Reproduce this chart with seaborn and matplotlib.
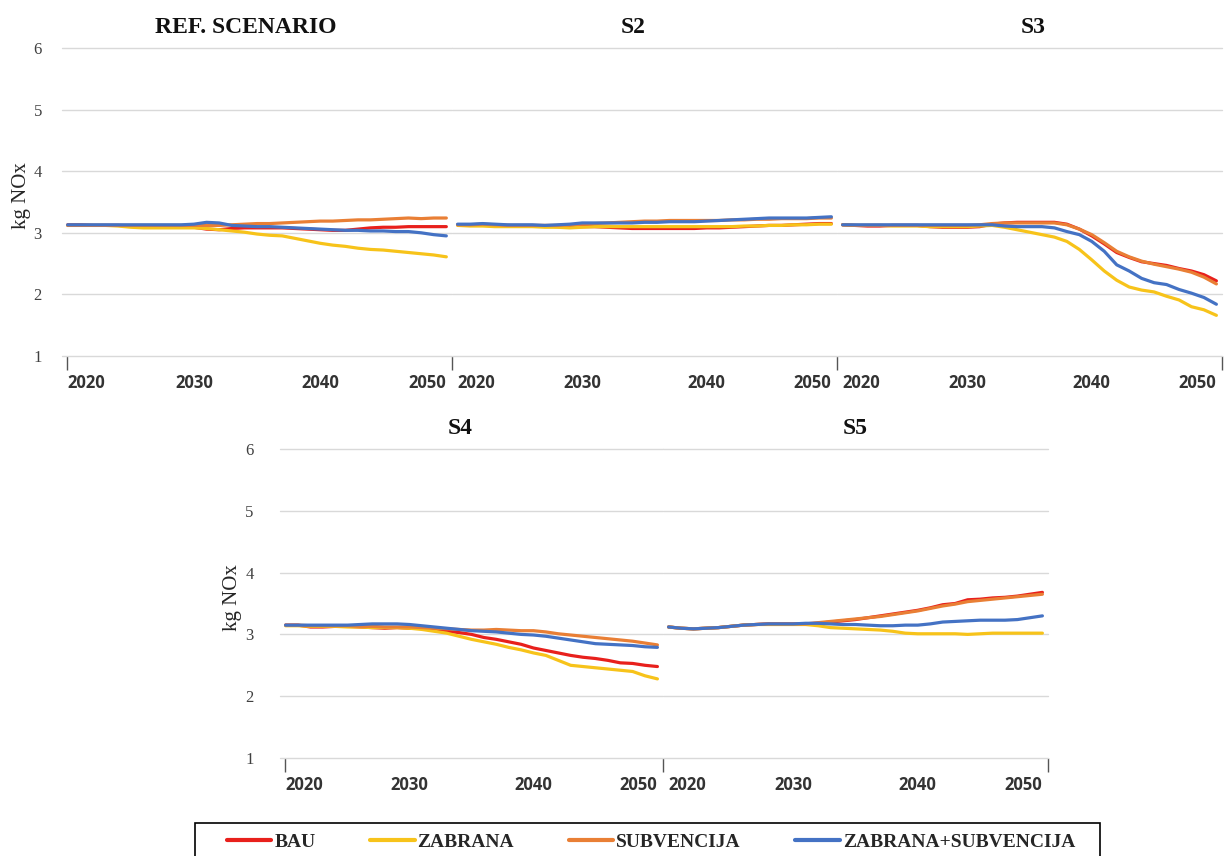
import matplotlib
matplotlib.use("Agg")
import matplotlib.pyplot as plt
import seaborn as sns
import pandas as pd
from matplotlib.lines import Line2D
from matplotlib.patches import Rectangle

# ---------------- data ----------------
years = list(range(2020, 2051))
series_names = ["BAU", "ZABRANA", "SUBVENCIJA", "ZABRANA+SUBVENCIJA"]
panel_titles = ["REF. SCENARIO", "S2", "S3", "S4", "S5"]
x_tick_years = [2020, 2030, 2040, 2050]
y_ticks = [1, 2, 3, 4, 5, 6]

ref_bau = [3.13, 3.13, 3.12, 3.12, 3.12, 3.11, 3.11, 3.11, 3.11, 3.10, 3.09, 3.06, 3.05, 3.07, 3.08, 3.08,
           3.08, 3.08, 3.07, 3.06, 3.05, 3.04, 3.04, 3.06, 3.08, 3.09, 3.09, 3.10, 3.10, 3.10, 3.10]
ref_zab = [3.12, 3.12, 3.12, 3.12, 3.11, 3.09, 3.08, 3.08, 3.08, 3.08, 3.08, 3.07, 3.05, 3.03, 3.01, 2.98,
           2.96, 2.95, 2.91, 2.87, 2.83, 2.80, 2.78, 2.75, 2.73, 2.72, 2.70, 2.68, 2.66, 2.64, 2.61]
ref_sub = [3.12, 3.12, 3.12, 3.12, 3.12, 3.12, 3.12, 3.12, 3.12, 3.12, 3.12, 3.12, 3.12, 3.13, 3.14, 3.15,
           3.15, 3.16, 3.17, 3.18, 3.19, 3.19, 3.20, 3.21, 3.21, 3.22, 3.23, 3.24, 3.23, 3.24, 3.24]
ref_zs = [3.13, 3.13, 3.13, 3.13, 3.13, 3.13, 3.13, 3.13, 3.13, 3.13, 3.14, 3.17, 3.16, 3.12, 3.11, 3.10,
          3.10, 3.09, 3.08, 3.07, 3.06, 3.05, 3.04, 3.04, 3.03, 3.03, 3.02, 3.02, 3.00, 2.97, 2.95]

s2_bau = [3.13, 3.12, 3.13, 3.12, 3.12, 3.11, 3.11, 3.11, 3.10, 3.10, 3.10, 3.10, 3.09, 3.08, 3.07, 3.07,
          3.07, 3.07, 3.07, 3.07, 3.08, 3.08, 3.09, 3.10, 3.11, 3.12, 3.12, 3.13, 3.14, 3.15, 3.15]
s2_zab = [3.12, 3.11, 3.11, 3.10, 3.10, 3.10, 3.10, 3.09, 3.09, 3.08, 3.09, 3.10, 3.10, 3.10, 3.10, 3.10,
          3.10, 3.10, 3.10, 3.10, 3.10, 3.10, 3.10, 3.11, 3.11, 3.12, 3.12, 3.13, 3.13, 3.14, 3.14]
s2_sub = [3.13, 3.13, 3.14, 3.13, 3.12, 3.12, 3.12, 3.12, 3.12, 3.13, 3.14, 3.15, 3.16, 3.17, 3.18, 3.19,
          3.19, 3.20, 3.20, 3.20, 3.20, 3.20, 3.21, 3.21, 3.22, 3.22, 3.23, 3.23, 3.23, 3.24, 3.24]
s2_zs = [3.14, 3.14, 3.15, 3.14, 3.13, 3.13, 3.13, 3.12, 3.13, 3.14, 3.16, 3.16, 3.16, 3.16, 3.16, 3.17,
         3.17, 3.18, 3.18, 3.18, 3.19, 3.20, 3.21, 3.22, 3.23, 3.24, 3.24, 3.24, 3.24, 3.25, 3.26]

s3_bau = [3.13, 3.12, 3.11, 3.11, 3.12, 3.12, 3.12, 3.10, 3.09, 3.09, 3.09, 3.10, 3.14, 3.16, 3.17, 3.17,
          3.17, 3.17, 3.14, 3.06, 2.95, 2.82, 2.68, 2.60, 2.53, 2.50, 2.47, 2.42, 2.38, 2.32, 2.22]
s3_zab = [3.13, 3.12, 3.12, 3.12, 3.11, 3.11, 3.11, 3.10, 3.10, 3.10, 3.10, 3.11, 3.12, 3.09, 3.05, 3.01,
          2.97, 2.93, 2.86, 2.73, 2.56, 2.38, 2.23, 2.12, 2.07, 2.04, 1.97, 1.91, 1.80, 1.75, 1.66]
s3_sub = [3.13, 3.12, 3.12, 3.12, 3.12, 3.12, 3.12, 3.12, 3.12, 3.12, 3.12, 3.13, 3.15, 3.16, 3.16, 3.16,
          3.16, 3.16, 3.13, 3.06, 2.97, 2.84, 2.70, 2.61, 2.54, 2.49, 2.45, 2.41, 2.36, 2.28, 2.17]
s3_zs = [3.13, 3.13, 3.13, 3.13, 3.13, 3.13, 3.13, 3.13, 3.13, 3.13, 3.13, 3.13, 3.13, 3.11, 3.10, 3.10,
         3.10, 3.08, 3.02, 2.97, 2.86, 2.70, 2.48, 2.38, 2.26, 2.19, 2.16, 2.08, 2.02, 1.95, 1.84]

s4_bau = [3.15, 3.15, 3.12, 3.12, 3.13, 3.13, 3.12, 3.11, 3.10, 3.11, 3.10, 3.10, 3.08, 3.05, 3.03, 3.00,
          2.95, 2.92, 2.88, 2.84, 2.78, 2.74, 2.70, 2.66, 2.63, 2.61, 2.58, 2.54, 2.53, 2.50, 2.48]
s4_zab = [3.14, 3.14, 3.13, 3.13, 3.13, 3.12, 3.12, 3.11, 3.11, 3.11, 3.10, 3.08, 3.05, 3.02, 2.97, 2.92,
          2.88, 2.84, 2.79, 2.75, 2.70, 2.66, 2.58, 2.50, 2.48, 2.46, 2.44, 2.42, 2.40, 2.33, 2.28]
s4_sub = [3.15, 3.15, 3.14, 3.14, 3.14, 3.14, 3.13, 3.13, 3.12, 3.12, 3.12, 3.11, 3.10, 3.09, 3.08, 3.07,
          3.07, 3.08, 3.07, 3.06, 3.06, 3.04, 3.01, 2.99, 2.97, 2.95, 2.93, 2.91, 2.89, 2.86, 2.83]
s4_zs = [3.15, 3.15, 3.15, 3.15, 3.15, 3.15, 3.16, 3.17, 3.17, 3.17, 3.16, 3.14, 3.12, 3.10, 3.08, 3.06,
         3.05, 3.04, 3.02, 3.00, 2.99, 2.97, 2.94, 2.91, 2.88, 2.85, 2.84, 2.83, 2.82, 2.80, 2.79]

s5_bau = [3.12, 3.10, 3.09, 3.10, 3.11, 3.13, 3.15, 3.16, 3.17, 3.17, 3.17, 3.17, 3.18, 3.20, 3.22, 3.24,
          3.27, 3.30, 3.33, 3.36, 3.39, 3.43, 3.48, 3.50, 3.56, 3.57, 3.59, 3.60, 3.62, 3.65, 3.68]
s5_zab = [3.12, 3.10, 3.09, 3.10, 3.11, 3.13, 3.15, 3.16, 3.16, 3.16, 3.16, 3.16, 3.14, 3.11, 3.10, 3.09,
          3.08, 3.07, 3.05, 3.02, 3.01, 3.01, 3.01, 3.01, 3.00, 3.01, 3.02, 3.02, 3.02, 3.02, 3.02]
s5_sub = [3.12, 3.10, 3.09, 3.10, 3.11, 3.13, 3.15, 3.16, 3.17, 3.17, 3.17, 3.17, 3.19, 3.21, 3.23, 3.25,
          3.27, 3.29, 3.32, 3.35, 3.38, 3.42, 3.46, 3.49, 3.53, 3.55, 3.57, 3.59, 3.61, 3.63, 3.65]
s5_zs = [3.12, 3.10, 3.09, 3.10, 3.11, 3.13, 3.15, 3.16, 3.17, 3.17, 3.17, 3.18, 3.18, 3.17, 3.16, 3.16,
         3.15, 3.14, 3.14, 3.15, 3.15, 3.17, 3.20, 3.21, 3.22, 3.23, 3.23, 3.23, 3.24, 3.27, 3.30]

panel_data = [
    [ref_bau, ref_zab, ref_sub, ref_zs],
    [s2_bau, s2_zab, s2_sub, s2_zs],
    [s3_bau, s3_zab, s3_sub, s3_zs],
    [s4_bau, s4_zab, s4_sub, s4_zs],
    [s5_bau, s5_zab, s5_sub, s5_zs],
]

# ---------------- style ----------------
colors = ["#E8201C", "#F7C31A", "#E97F35", "#4472C4"]
palette = dict(zip(series_names, colors))

sns.set_theme(style="white")
plt.rcParams["font.family"] = ["Liberation Serif", "DejaVu Serif"]

W, H = 1227, 856
fig = plt.figure(figsize=(W / 100, H / 100), dpi=100)

# pixel boxes: (left, right, top(6), bottom(1))
boxes = [
    (62, 452, 48, 356),
    (452, 837, 48, 356),
    (837, 1222, 48, 356),
    (280, 663, 449, 758),
    (663, 1048, 449, 758),
]
title_x = [0.47, 0.47, 0.51, 0.47, 0.5]
xl, xr = 2019.55, 2050.45

for i, (l, r, t, b) in enumerate(boxes):
    ax = fig.add_axes([l / W, 1 - b / H, (r - l) / W, (b - t) / H])
    rows = []
    for name, vals in zip(series_names, panel_data[i]):
        rows.append(pd.DataFrame({"year": years, "value": vals, "series": name}))
    df = pd.concat(rows, ignore_index=True)
    sns.lineplot(data=df, x="year", y="value", hue="series", hue_order=series_names,
                 palette=palette, linewidth=2.3, legend=False, errorbar=None, ax=ax)
    ax.set_xlim(xl, xr)
    ax.set_ylim(1, 6)
    ax.set_yticks(y_ticks)
    ax.grid(axis="y", color="#d9d9d9", linewidth=1.0)
    ax.grid(axis="x", visible=False)
    for s in ax.spines.values():
        s.set_visible(False)
    ax.set_xlabel("")
    ax.set_ylabel("")
    ax.set_xticks(x_tick_years)
    ax.set_xticklabels([str(y) for y in x_tick_years], fontfamily="Open Sans",
                       fontweight="bold", fontsize=12, color="#333333")
    labs = ax.get_xticklabels()
    labs[0].set_ha("left")
    labs[-1].set_ha("right")
    ax.tick_params(axis="x", which="major", length=0, pad=13)
    minor_pos = [2019.98, xr] if i in (0, 3) else [xr]
    ax.set_xticks(minor_pos, minor=True)
    ax.tick_params(axis="x", which="minor", bottom=True, length=10, width=1,
                   color="#555555", direction="out")
    ax.tick_params(axis="y", length=0)
    if i in (0, 3):
        ax.set_yticklabels([str(v) for v in y_ticks], fontsize=12, color="#404040")
        ax.tick_params(axis="y", pad=14.5 if i == 0 else 19)
        ax.set_ylabel("kg NOx", fontsize=15, color="#262626")
        ax.yaxis.set_label_coords(-0.08 if i == 0 else -0.10, 0.52)
    else:
        ax.set_yticklabels([])
    for gl in ax.get_ygridlines():
        gl.set_clip_on(False)
    ax.set_title(panel_titles[i], fontsize=17, fontweight="bold", pad=11, x=title_x[i], color="#111111")

# legend box (extends past bottom edge, as in the reference)
fig.patches.append(Rectangle((195 / W, -0.02), (1100 - 195) / W, (856 - 823) / H + 0.02,
                             transform=fig.transFigure, fill=False, edgecolor="black",
                             linewidth=1.2, figure=fig))
handles = [Line2D([0], [0], color=c, linewidth=3) for c in colors]
leg = fig.legend(handles, series_names, loc="center", bbox_to_anchor=(651 / W, 1 - 842 / H),
                 ncol=4, frameon=False, handlelength=2.3,
                 handletextpad=0.15, columnspacing=2.8, borderpad=0.0,
                 prop={"family": "Liberation Serif", "weight": "bold", "size": 14})

fig.savefig("out.png", dpi=100)
